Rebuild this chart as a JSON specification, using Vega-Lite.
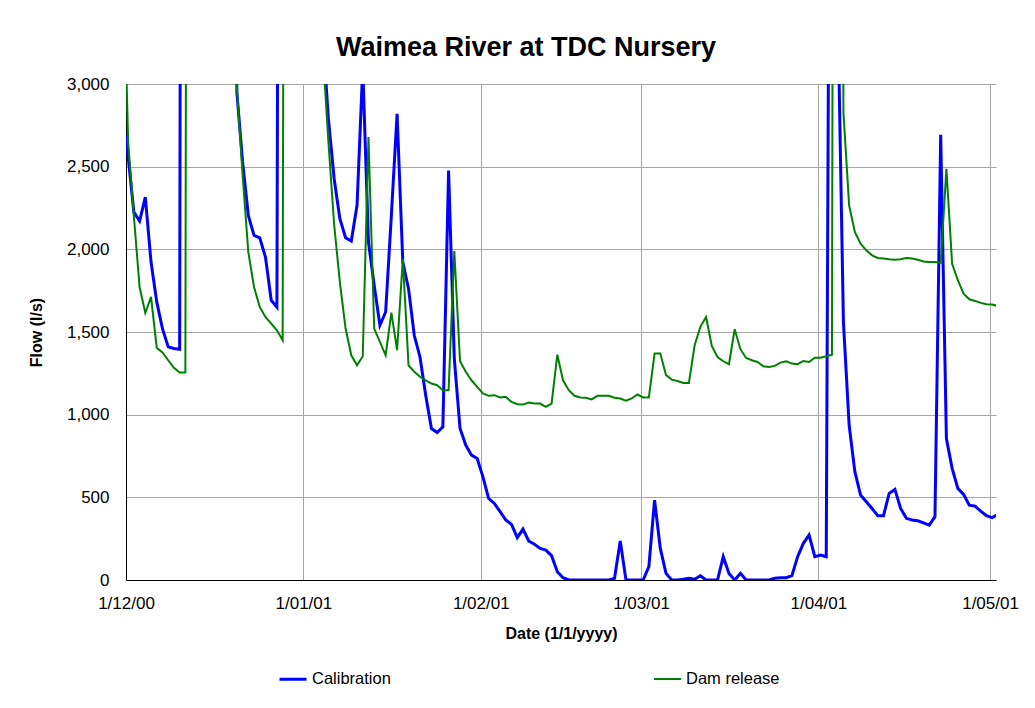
{
  "$schema": "https://vega.github.io/schema/vega-lite/v6.json",
  "width": 870,
  "height": 496,
  "autosize": "none",
  "padding": {"left": 126, "top": 84, "right": 39, "bottom": 128},
  "background": "white",
  "config": {"view": {"stroke": null}, "font": "Liberation Sans"},
  "title": {"text": "Waimea River at TDC Nursery", "font": "Liberation Sans", "fontSize": 27, "fontWeight": "bold", "color": "black", "anchor": "middle", "dx": -35, "dy": 36, "offset": 28, "baseline": "alphabetic"},
  "data": {"values": [
    {"date": "2000-11-30T09:00", "Calibration": 2800, "Dam release": 4000},
    {"date": "2000-12-01T09:00", "Calibration": 2560, "Dam release": 2650},
    {"date": "2000-12-02T09:00", "Calibration": 2225, "Dam release": 2200},
    {"date": "2000-12-03T09:00", "Calibration": 2171, "Dam release": 1772},
    {"date": "2000-12-04T09:00", "Calibration": 2316, "Dam release": 1615},
    {"date": "2000-12-05T09:00", "Calibration": 1923, "Dam release": 1712},
    {"date": "2000-12-06T09:00", "Calibration": 1682, "Dam release": 1404},
    {"date": "2000-12-07T09:00", "Calibration": 1520, "Dam release": 1376},
    {"date": "2000-12-08T09:00", "Calibration": 1410, "Dam release": 1329},
    {"date": "2000-12-09T09:00", "Calibration": 1400, "Dam release": 1283},
    {"date": "2000-12-10T09:00", "Calibration": 1396, "Dam release": 1255},
    {"date": "2000-12-11T09:00", "Calibration": 20000, "Dam release": 1255},
    {"date": "2000-12-12T09:00", "Calibration": 25000, "Dam release": 20000},
    {"date": "2000-12-13T09:00", "Calibration": 18000, "Dam release": 22000},
    {"date": "2000-12-14T09:00", "Calibration": 14000, "Dam release": 17000},
    {"date": "2000-12-15T09:00", "Calibration": 11000, "Dam release": 13000},
    {"date": "2000-12-16T09:00", "Calibration": 9000, "Dam release": 10000},
    {"date": "2000-12-17T09:00", "Calibration": 8000, "Dam release": 9000},
    {"date": "2000-12-18T09:00", "Calibration": 12000, "Dam release": 13000},
    {"date": "2000-12-19T09:00", "Calibration": 9000, "Dam release": 9500},
    {"date": "2000-12-20T09:00", "Calibration": 2950, "Dam release": 2980},
    {"date": "2000-12-21T09:00", "Calibration": 2530, "Dam release": 2450},
    {"date": "2000-12-22T09:00", "Calibration": 2205, "Dam release": 1983},
    {"date": "2000-12-23T09:00", "Calibration": 2084, "Dam release": 1772},
    {"date": "2000-12-24T09:00", "Calibration": 2070, "Dam release": 1651},
    {"date": "2000-12-25T09:00", "Calibration": 1953, "Dam release": 1591},
    {"date": "2000-12-26T09:00", "Calibration": 1692, "Dam release": 1551},
    {"date": "2000-12-27T09:00", "Calibration": 1651, "Dam release": 1510},
    {"date": "2000-12-28T09:00", "Calibration": 15000, "Dam release": 1450},
    {"date": "2000-12-29T09:00", "Calibration": 20000, "Dam release": 18000},
    {"date": "2000-12-30T09:00", "Calibration": 16000, "Dam release": 15000},
    {"date": "2000-12-31T09:00", "Calibration": 11000, "Dam release": 12000},
    {"date": "2001-01-01T09:00", "Calibration": 8000, "Dam release": 9000},
    {"date": "2001-01-02T09:00", "Calibration": 6000, "Dam release": 6500},
    {"date": "2001-01-03T09:00", "Calibration": 4500, "Dam release": 4800},
    {"date": "2001-01-04T09:00", "Calibration": 3300, "Dam release": 3200},
    {"date": "2001-01-05T09:00", "Calibration": 2789, "Dam release": 2650},
    {"date": "2001-01-06T09:00", "Calibration": 2427, "Dam release": 2150},
    {"date": "2001-01-07T09:00", "Calibration": 2185, "Dam release": 1802},
    {"date": "2001-01-08T09:00", "Calibration": 2070, "Dam release": 1521},
    {"date": "2001-01-09T09:00", "Calibration": 2050, "Dam release": 1359},
    {"date": "2001-01-10T09:00", "Calibration": 2266, "Dam release": 1299},
    {"date": "2001-01-11T09:00", "Calibration": 3100, "Dam release": 1353},
    {"date": "2001-01-12T09:00", "Calibration": 2044, "Dam release": 2679},
    {"date": "2001-01-13T09:00", "Calibration": 1782, "Dam release": 1521},
    {"date": "2001-01-14T09:00", "Calibration": 1541, "Dam release": 1440},
    {"date": "2001-01-15T09:00", "Calibration": 1621, "Dam release": 1359},
    {"date": "2001-01-16T09:00", "Calibration": 2205, "Dam release": 1617},
    {"date": "2001-01-17T09:00", "Calibration": 2820, "Dam release": 1390},
    {"date": "2001-01-18T09:00", "Calibration": 1923, "Dam release": 1943},
    {"date": "2001-01-19T09:00", "Calibration": 1762, "Dam release": 1299},
    {"date": "2001-01-20T09:00", "Calibration": 1480, "Dam release": 1259},
    {"date": "2001-01-21T09:00", "Calibration": 1349, "Dam release": 1229},
    {"date": "2001-01-22T09:00", "Calibration": 1118, "Dam release": 1208},
    {"date": "2001-01-23T09:00", "Calibration": 916, "Dam release": 1188},
    {"date": "2001-01-24T09:00", "Calibration": 892, "Dam release": 1178},
    {"date": "2001-01-25T09:00", "Calibration": 926, "Dam release": 1148},
    {"date": "2001-01-26T09:00", "Calibration": 2477, "Dam release": 1148},
    {"date": "2001-01-27T09:00", "Calibration": 1339, "Dam release": 1990},
    {"date": "2001-01-28T09:00", "Calibration": 916, "Dam release": 1323},
    {"date": "2001-01-29T09:00", "Calibration": 816, "Dam release": 1259},
    {"date": "2001-01-30T09:00", "Calibration": 755, "Dam release": 1208},
    {"date": "2001-01-31T09:00", "Calibration": 735, "Dam release": 1168},
    {"date": "2001-02-01T09:00", "Calibration": 624, "Dam release": 1128},
    {"date": "2001-02-02T09:00", "Calibration": 493, "Dam release": 1114},
    {"date": "2001-02-03T09:00", "Calibration": 463, "Dam release": 1118},
    {"date": "2001-02-04T09:00", "Calibration": 413, "Dam release": 1104},
    {"date": "2001-02-05T09:00", "Calibration": 363, "Dam release": 1108},
    {"date": "2001-02-06T09:00", "Calibration": 336, "Dam release": 1077},
    {"date": "2001-02-07T09:00", "Calibration": 256, "Dam release": 1063},
    {"date": "2001-02-08T09:00", "Calibration": 308, "Dam release": 1061},
    {"date": "2001-02-09T09:00", "Calibration": 236, "Dam release": 1073},
    {"date": "2001-02-10T09:00", "Calibration": 216, "Dam release": 1067},
    {"date": "2001-02-11T09:00", "Calibration": 191, "Dam release": 1067},
    {"date": "2001-02-12T09:00", "Calibration": 181, "Dam release": 1047},
    {"date": "2001-02-13T09:00", "Calibration": 147, "Dam release": 1067},
    {"date": "2001-02-14T09:00", "Calibration": 50, "Dam release": 1363},
    {"date": "2001-02-15T09:00", "Calibration": 14, "Dam release": 1208},
    {"date": "2001-02-16T09:00", "Calibration": 0, "Dam release": 1148},
    {"date": "2001-02-17T09:00", "Calibration": 0, "Dam release": 1114},
    {"date": "2001-02-18T09:00", "Calibration": 0, "Dam release": 1104},
    {"date": "2001-02-19T09:00", "Calibration": 0, "Dam release": 1102},
    {"date": "2001-02-20T09:00", "Calibration": 0, "Dam release": 1092},
    {"date": "2001-02-21T09:00", "Calibration": 0, "Dam release": 1114},
    {"date": "2001-02-22T09:00", "Calibration": 0, "Dam release": 1114},
    {"date": "2001-02-23T09:00", "Calibration": 0, "Dam release": 1114},
    {"date": "2001-02-24T09:00", "Calibration": 10, "Dam release": 1102},
    {"date": "2001-02-25T09:00", "Calibration": 236, "Dam release": 1098},
    {"date": "2001-02-26T09:00", "Calibration": 0, "Dam release": 1084},
    {"date": "2001-02-27T09:00", "Calibration": 0, "Dam release": 1098},
    {"date": "2001-02-28T09:00", "Calibration": 0, "Dam release": 1122},
    {"date": "2001-03-01T09:00", "Calibration": 0, "Dam release": 1104},
    {"date": "2001-03-02T09:00", "Calibration": 81, "Dam release": 1104},
    {"date": "2001-03-03T09:00", "Calibration": 483, "Dam release": 1370},
    {"date": "2001-03-04T09:00", "Calibration": 191, "Dam release": 1370},
    {"date": "2001-03-05T09:00", "Calibration": 40, "Dam release": 1239},
    {"date": "2001-03-06T09:00", "Calibration": 0, "Dam release": 1212},
    {"date": "2001-03-07T09:00", "Calibration": 0, "Dam release": 1204},
    {"date": "2001-03-08T09:00", "Calibration": 4, "Dam release": 1192},
    {"date": "2001-03-09T09:00", "Calibration": 10, "Dam release": 1192},
    {"date": "2001-03-10T09:00", "Calibration": 5, "Dam release": 1420},
    {"date": "2001-03-11T09:00", "Calibration": 26, "Dam release": 1531},
    {"date": "2001-03-12T09:00", "Calibration": 0, "Dam release": 1591},
    {"date": "2001-03-13T09:00", "Calibration": 0, "Dam release": 1416},
    {"date": "2001-03-14T09:00", "Calibration": 0, "Dam release": 1349},
    {"date": "2001-03-15T09:00", "Calibration": 141, "Dam release": 1323},
    {"date": "2001-03-16T09:00", "Calibration": 40, "Dam release": 1305},
    {"date": "2001-03-17T09:00", "Calibration": 0, "Dam release": 1517},
    {"date": "2001-03-18T09:00", "Calibration": 40, "Dam release": 1396},
    {"date": "2001-03-19T09:00", "Calibration": 0, "Dam release": 1343},
    {"date": "2001-03-20T09:00", "Calibration": 0, "Dam release": 1329},
    {"date": "2001-03-21T09:00", "Calibration": 0, "Dam release": 1319},
    {"date": "2001-03-22T09:00", "Calibration": 0, "Dam release": 1293},
    {"date": "2001-03-23T09:00", "Calibration": 0, "Dam release": 1289},
    {"date": "2001-03-24T09:00", "Calibration": 10, "Dam release": 1295},
    {"date": "2001-03-25T09:00", "Calibration": 14, "Dam release": 1315},
    {"date": "2001-03-26T09:00", "Calibration": 14, "Dam release": 1323},
    {"date": "2001-03-27T09:00", "Calibration": 26, "Dam release": 1309},
    {"date": "2001-03-28T09:00", "Calibration": 141, "Dam release": 1305},
    {"date": "2001-03-29T09:00", "Calibration": 222, "Dam release": 1325},
    {"date": "2001-03-30T09:00", "Calibration": 272, "Dam release": 1319},
    {"date": "2001-03-31T09:00", "Calibration": 141, "Dam release": 1345},
    {"date": "2001-04-01T09:00", "Calibration": 151, "Dam release": 1345},
    {"date": "2001-04-02T09:00", "Calibration": 141, "Dam release": 1353},
    {"date": "2001-04-03T09:00", "Calibration": 7950, "Dam release": 1363},
    {"date": "2001-04-04T09:00", "Calibration": 3500, "Dam release": 20000},
    {"date": "2001-04-05T09:00", "Calibration": 1561, "Dam release": 2830},
    {"date": "2001-04-06T09:00", "Calibration": 937, "Dam release": 2266},
    {"date": "2001-04-07T09:00", "Calibration": 655, "Dam release": 2105},
    {"date": "2001-04-08T09:00", "Calibration": 514, "Dam release": 2034},
    {"date": "2001-04-09T09:00", "Calibration": 473, "Dam release": 1994},
    {"date": "2001-04-10T09:00", "Calibration": 433, "Dam release": 1964},
    {"date": "2001-04-11T09:00", "Calibration": 389, "Dam release": 1948},
    {"date": "2001-04-12T09:00", "Calibration": 389, "Dam release": 1944},
    {"date": "2001-04-13T09:00", "Calibration": 524, "Dam release": 1940},
    {"date": "2001-04-14T09:00", "Calibration": 548, "Dam release": 1937},
    {"date": "2001-04-15T09:00", "Calibration": 433, "Dam release": 1940},
    {"date": "2001-04-16T09:00", "Calibration": 373, "Dam release": 1948},
    {"date": "2001-04-17T09:00", "Calibration": 363, "Dam release": 1944},
    {"date": "2001-04-18T09:00", "Calibration": 358, "Dam release": 1937},
    {"date": "2001-04-19T09:00", "Calibration": 346, "Dam release": 1927},
    {"date": "2001-04-20T09:00", "Calibration": 332, "Dam release": 1923},
    {"date": "2001-04-21T09:00", "Calibration": 383, "Dam release": 1923},
    {"date": "2001-04-22T09:00", "Calibration": 2693, "Dam release": 1917},
    {"date": "2001-04-23T09:00", "Calibration": 856, "Dam release": 2487},
    {"date": "2001-04-24T09:00", "Calibration": 675, "Dam release": 1913},
    {"date": "2001-04-25T09:00", "Calibration": 554, "Dam release": 1813},
    {"date": "2001-04-26T09:00", "Calibration": 518, "Dam release": 1732},
    {"date": "2001-04-27T09:00", "Calibration": 453, "Dam release": 1698},
    {"date": "2001-04-28T09:00", "Calibration": 447, "Dam release": 1688},
    {"date": "2001-04-29T09:00", "Calibration": 417, "Dam release": 1676},
    {"date": "2001-04-30T09:00", "Calibration": 389, "Dam release": 1668},
    {"date": "2001-05-01T09:00", "Calibration": 377, "Dam release": 1666},
    {"date": "2001-05-02T09:00", "Calibration": 397, "Dam release": 1656}
  ]},
  "transform": [{"fold": ["Calibration", "Dam release"], "as": ["series", "flow"]}],
  "mark": {"type": "line", "clip": true},
  "encoding": {
    "x": {
      "field": "date", "type": "temporal",
      "scale": {"domain": [{"year": 2000, "month": 12, "date": 1}, {"year": 2001, "month": 5, "date": 2, "hours": 1}], "nice": false},
      "axis": {
        "values": [{"year": 2000, "month": 12, "date": 1}, {"year": 2001, "month": 1, "date": 1}, {"year": 2001, "month": 2, "date": 1}, {"year": 2001, "month": 3, "date": 1}, {"year": 2001, "month": 4, "date": 1}, {"year": 2001, "month": 5, "date": 1}],
        "format": "%-d/%m/%y", "title": "Date (1/1/yyyy)",
        "grid": true, "gridColor": "#a6a6a6", "gridWidth": 1,
        "ticks": false, "tickSize": 0,
        "domainColor": "black", "domainWidth": 1,
        "labelFont": "Liberation Sans", "labelFontSize": 17, "labelColor": "black", "labelPadding": 15, "labelFlush": false, "labelOverlap": false,
        "titleFont": "Liberation Sans", "titleFontSize": 16, "titleFontWeight": "bold", "titleColor": "black", "titlePadding": 14
      }
    },
    "y": {
      "field": "flow", "type": "quantitative",
      "scale": {"domain": [0, 3000], "nice": false},
      "axis": {
        "values": [0, 500, 1000, 1500, 2000, 2500, 3000],
        "format": ",d", "title": "Flow (l/s)",
        "grid": true, "gridColor": "#a6a6a6", "gridWidth": 1,
        "ticks": false, "tickSize": 0,
        "domainColor": "black", "domainWidth": 1,
        "labelFont": "Liberation Sans", "labelFontSize": 17, "labelColor": "black", "labelPadding": 17,
        "titleFont": "Liberation Sans", "titleFontSize": 16, "titleFontWeight": "bold", "titleColor": "black", "titlePadding": 22
      }
    },
    "color": {
      "field": "series", "type": "nominal",
      "scale": {"domain": ["Calibration", "Dam release"], "range": ["#0000ff", "#008000"]},
      "legend": {"orient": "none", "legendX": 152, "legendY": 580, "direction": "horizontal", "title": null, "columnPadding": 259, "symbolType": "stroke", "symbolSize": 729, "labelFont": "Liberation Sans", "labelFontSize": 16.5, "labelColor": "black", "labelOffset": 4, "padding": 0}
    },
    "strokeWidth": {
      "field": "series", "type": "nominal",
      "scale": {"domain": ["Calibration", "Dam release"], "range": [3, 2]},
      "legend": {"orient": "none", "legendX": 152, "legendY": 580, "direction": "horizontal", "title": null, "columnPadding": 259, "symbolType": "stroke", "symbolSize": 729, "labelFont": "Liberation Sans", "labelFontSize": 16.5, "labelColor": "black", "labelOffset": 4, "padding": 0}
    }
  }
}
